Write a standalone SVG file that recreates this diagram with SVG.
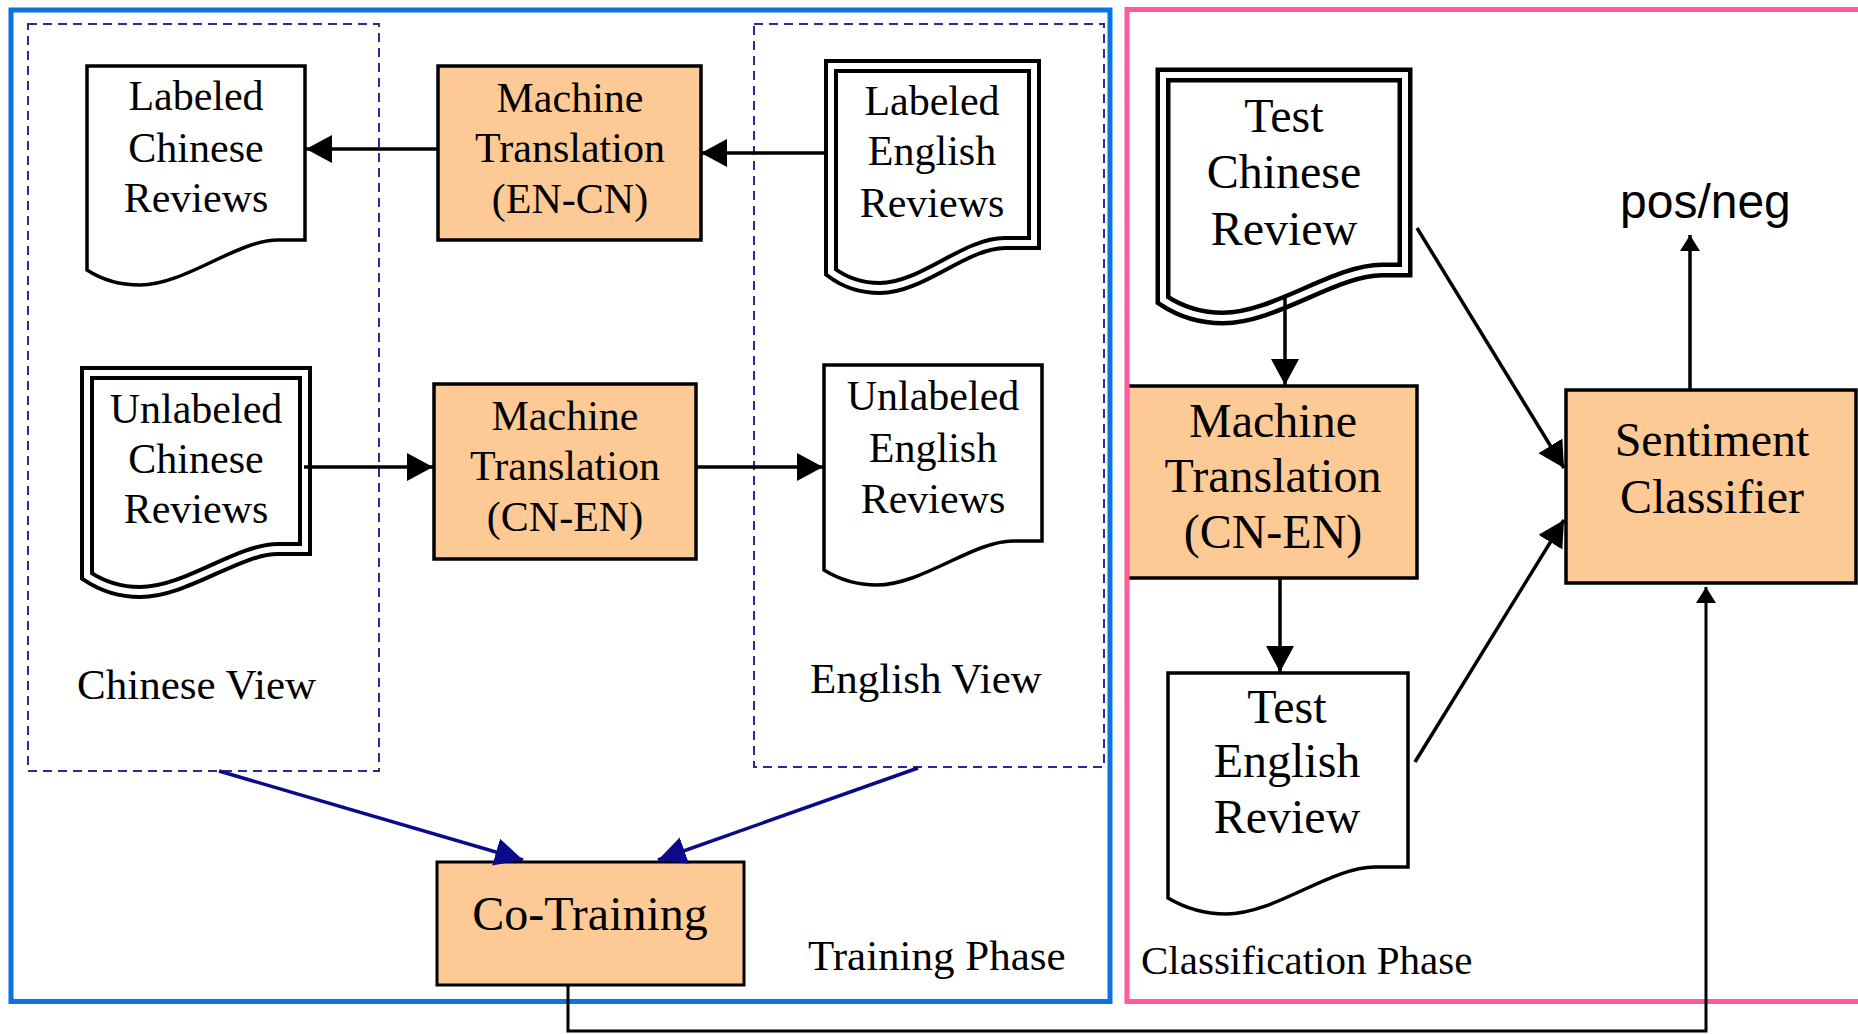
<svg xmlns="http://www.w3.org/2000/svg" width="1858" height="1034" viewBox="0 0 1858 1034">
  <style>
    .serif { font-family: "Liberation Serif", "Times New Roman", serif; fill: #000; text-anchor: middle; }
    .n42 { font-size: 42px; }
    .n48 { font-size: 48px; }
    .lbl { font-family: "Liberation Serif", "Times New Roman", serif; fill: #000; font-size: 43px; }
    .box { fill: #fdca96; stroke: #000; stroke-width: 3.5; }
    .doc { fill: #fff; stroke: #000; stroke-width: 3.5; stroke-linejoin: miter; }
    .docOuter { fill: #fff; stroke: #000; stroke-width: 14; stroke-linejoin: miter; }
    .docInner { fill: none; stroke: #fff; stroke-width: 6; stroke-linejoin: miter; }
    .view { fill: none; stroke: #2b2b92; stroke-width: 2; stroke-dasharray: 9 6; }
    .edge { fill: none; stroke: #000; stroke-width: 3.5; }
    .thin { fill: none; stroke: #000; stroke-width: 3; }
    .navy { fill: none; stroke: #0a0a8a; stroke-width: 3.5; }
  </style>
  <defs>
    <marker id="arrow" markerUnits="userSpaceOnUse" markerWidth="28" markerHeight="30" refX="26" refY="14" orient="auto">
      <path d="M0,0 L26,14 L0,28 Z" fill="#000"/>
    </marker>
    <marker id="arrowSmall" markerUnits="userSpaceOnUse" markerWidth="18" markerHeight="22" refX="16" refY="10" orient="auto">
      <path d="M0,0 L16,10 L0,20 Z" fill="#000"/>
    </marker>
    <marker id="arrowNavy" markerUnits="userSpaceOnUse" markerWidth="30" markerHeight="30" refX="28" refY="14" orient="auto">
      <path d="M0,0 L28,14 L0,28 Z" fill="#0a0a8a"/>
    </marker>
  </defs>

  <!-- view groupings -->
  <g id="chinese-view">
    <rect class="view" x="28" y="24" width="351" height="747"/>
    <text class="lbl" x="77" y="699">Chinese View</text>
  </g>
  <g id="english-view">
    <rect class="view" x="754" y="24" width="350" height="743"/>
    <text class="lbl" x="810" y="693">English View</text>
  </g>

  <!-- training phase nodes -->
  <g id="labeled-chinese">
    <path class="doc" d="M87,66 H305 V240 H278 C237,240 185,285 140,285 Q110,285 87,270 Z"/>
    <text class="serif n42" x="196" y="110">Labeled</text>
    <text class="serif n42" x="196" y="162">Chinese</text>
    <text class="serif n42" x="196" y="212">Reviews</text>
  </g>
  <g id="mt-en-cn">
    <rect class="box" x="438" y="66" width="263" height="174"/>
    <text class="serif n42" x="570" y="112">Machine</text>
    <text class="serif n42" x="570" y="162">Translation</text>
    <text class="serif n42" x="570" y="213">(EN-CN)</text>
  </g>
  <g id="labeled-english">
    <path class="docOuter" d="M831,66 H1034 V243 H1005 C965,243 922,288 880,288 Q852,288 831,272 Z"/>
    <path class="docInner" d="M831,66 H1034 V243 H1005 C965,243 922,288 880,288 Q852,288 831,272 Z"/>
    <text class="serif n42" x="932" y="115">Labeled</text>
    <text class="serif n42" x="932" y="165">English</text>
    <text class="serif n42" x="932" y="217">Reviews</text>
  </g>
  <g id="unlabeled-chinese">
    <path class="docOuter" d="M87,373 H305 V549 H278 C238,549 186,592 140,592 Q111,592 87,576 Z"/>
    <path class="docInner" d="M87,373 H305 V549 H278 C238,549 186,592 140,592 Q111,592 87,576 Z"/>
    <text class="serif n42" x="196" y="423">Unlabeled</text>
    <text class="serif n42" x="196" y="473">Chinese</text>
    <text class="serif n42" x="196" y="523">Reviews</text>
  </g>
  <g id="mt-cn-en-train">
    <rect class="box" x="434" y="384" width="262" height="175"/>
    <text class="serif n42" x="565" y="430">Machine</text>
    <text class="serif n42" x="565" y="480">Translation</text>
    <text class="serif n42" x="565" y="531">(CN-EN)</text>
  </g>
  <g id="unlabeled-english">
    <path class="doc" d="M824,365 H1042 V541 H1013 C973,541 922,585 877,585 Q848,585 824,570 Z"/>
    <text class="serif n42" x="933" y="410">Unlabeled</text>
    <text class="serif n42" x="933" y="462">English</text>
    <text class="serif n42" x="933" y="513">Reviews</text>
  </g>
  <g id="co-training">
    <rect class="box" x="437" y="862" width="307" height="123" style="stroke-width:3"/>
    <text class="serif n48" x="590" y="930">Co-Training</text>
  </g>

  <!-- classification phase nodes -->
  <g id="test-chinese">
    <path class="docOuter" style="stroke-width:15" d="M1163,75 H1405 V270 H1382 C1335,270 1275,318 1223,318 Q1190,318 1163,300 Z"/>
    <path class="docInner" d="M1163,75 H1405 V270 H1382 C1335,270 1275,318 1223,318 Q1190,318 1163,300 Z"/>
    <text class="serif n48" x="1284" y="132">Test</text>
    <text class="serif n48" x="1284" y="188">Chinese</text>
    <text class="serif n48" x="1284" y="245">Review</text>
  </g>
  <g id="mt-cn-en-test">
    <rect class="box" x="1127" y="386" width="290" height="192"/>
    <text class="serif n48" x="1273" y="437">Machine</text>
    <text class="serif n48" x="1273" y="492">Translation</text>
    <text class="serif n48" x="1273" y="548">(CN-EN)</text>
  </g>
  <g id="test-english">
    <path class="doc" d="M1168,673 H1408 V867 H1375 C1330,867 1275,914 1226,914 Q1195,914 1168,898 Z"/>
    <text class="serif n48" x="1287" y="723">Test</text>
    <text class="serif n48" x="1287" y="777">English</text>
    <text class="serif n48" x="1287" y="833">Review</text>
  </g>
  <g id="sentiment-classifier">
    <rect class="box" x="1566" y="390" width="290" height="193"/>
    <text class="serif n48" x="1712" y="456">Sentiment</text>
    <text class="serif n48" x="1712" y="513">Classifier</text>
  </g>
  <g id="output-label">
    <text x="1620" y="218" style="font-family:'Liberation Sans', Arial, sans-serif; font-size:48px; fill:#000">pos/neg</text>
  </g>

  <!-- phase frames -->
  <g id="training-phase">
    <rect x="11" y="10" width="1099" height="991.5" fill="none" stroke="#0a74de" stroke-width="5"/>
    <text class="lbl" x="808" y="970">Training Phase</text>
  </g>
  <g id="classification-phase">
    <rect x="1127" y="9.5" width="740" height="992" fill="none" stroke="#ff5a9c" stroke-width="5"/>
    <text class="lbl" x="1141" y="974" style="font-size:41px">Classification Phase</text>
  </g>

  <!-- connectors -->
  <g id="connectors">
    <line class="edge" x1="437" y1="149" x2="306" y2="149" marker-end="url(#arrow)"/>
    <line class="edge" x1="826" y1="153" x2="701" y2="153" marker-end="url(#arrow)"/>
    <line class="edge" x1="304" y1="467" x2="433" y2="467" marker-end="url(#arrow)"/>
    <line class="edge" x1="696" y1="467" x2="823" y2="467" marker-end="url(#arrow)"/>
    <line class="navy" x1="219" y1="771" x2="523" y2="860" marker-end="url(#arrowNavy)"/>
    <line class="navy" x1="918" y1="768" x2="658" y2="860" marker-end="url(#arrowNavy)"/>
    <line class="edge" x1="1285" y1="296" x2="1285" y2="385" marker-end="url(#arrow)"/>
    <line class="edge" x1="1280" y1="579" x2="1280" y2="672" marker-end="url(#arrow)"/>
    <line class="edge" x1="1417" y1="228" x2="1564" y2="468" marker-end="url(#arrow)"/>
    <line class="edge" x1="1415" y1="762" x2="1564" y2="520" marker-end="url(#arrow)"/>
    <line class="edge" x1="1690" y1="389" x2="1690" y2="235" marker-end="url(#arrowSmall)"/>
    <polyline class="thin" points="568,986 568,1031 1706,1031 1706,587" marker-end="url(#arrowSmall)"/>
  </g>
</svg>
